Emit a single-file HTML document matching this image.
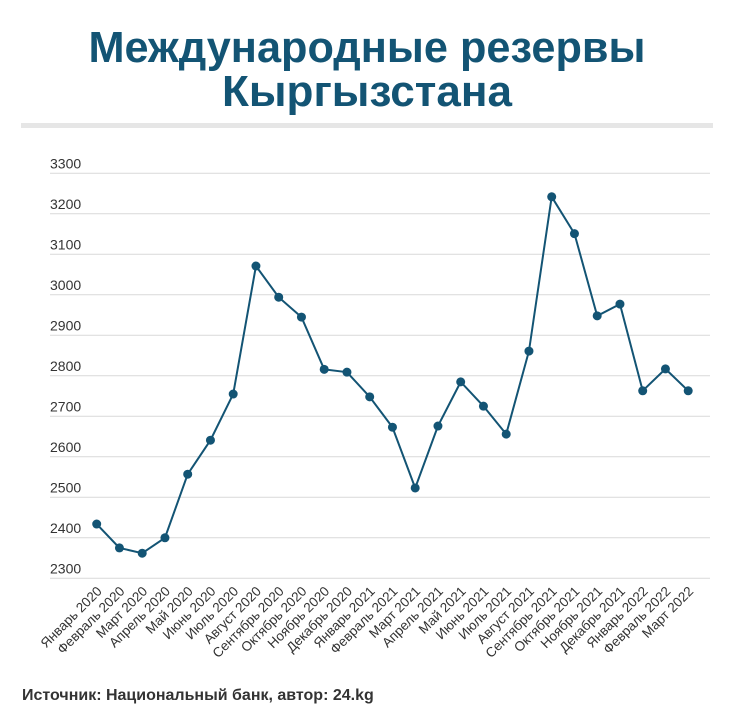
<!DOCTYPE html>
<html><head><meta charset="utf-8"><style>
body{margin:0;background:#fff;width:735px;height:717px;overflow:hidden}
svg{display:block}
</style></head><body>
<svg width="735" height="717" xmlns="http://www.w3.org/2000/svg" font-family="Liberation Sans, sans-serif">
<text x="367" y="62" text-anchor="middle" font-size="44" font-weight="bold" fill="#135474" textLength="557" lengthAdjust="spacingAndGlyphs">Международные резервы</text>
<text x="367" y="106" text-anchor="middle" font-size="44" font-weight="bold" fill="#135474" textLength="290" lengthAdjust="spacingAndGlyphs">Кыргызстана</text>
<rect x="21" y="123" width="692" height="5" fill="#e6e6e6"/>
<g id="grid" stroke="#d9d9d9" stroke-width="1"></g>
<g id="yl" font-size="14" fill="#333"></g>
<g id="xl" font-size="13.5" fill="#333"></g>
<polyline id="ln" fill="none" stroke="#135474" stroke-width="2"/>
<g id="pts" fill="#135474"></g>
<text x="22" y="700" font-size="16" font-weight="bold" fill="#333">Источник: Национальный банк, автор: 24.kg</text>
</svg>
<script>
var ns="http://www.w3.org/2000/svg";
function el(t,a,p,txt){var e=document.createElementNS(ns,t);for(var k in a)e.setAttribute(k,a[k]);if(txt)e.textContent=txt;document.getElementById(p).appendChild(e);return e;}
function Y(v){return 578.3-(v-2300)*0.405;}
for(var v=2300;v<=3300;v+=100){var y=Y(v);el('line',{x1:50,x2:710,y1:y,y2:y},'grid');el('text',{x:50,y:y-5},'yl',v);}
var vals=[2434,2375,2362,2400,2557,2641,2755,3071,2994,2945,2816,2809,2748,2673,2523,2676,2785,2725,2656,2861,3242,3151,2948,2977,2763,2817,2763];
var m=["Январь","Февраль","Март","Апрель","Май","Июнь","Июль","Август","Сентябрь","Октябрь","Ноябрь","Декабрь"];
var pts=[];
for(var i=0;i<vals.length;i++){var x=96.7+i*22.75,y=Y(vals[i]);pts.push(x+","+y);el('circle',{cx:x,cy:y,r:4.5},'pts');
var lab=m[i%12]+" "+(2020+Math.floor(i/12));
el('text',{x:x+6,y:592,'text-anchor':'end',transform:'rotate(-45 '+(x+6)+' 592)'},'xl',lab);}
document.getElementById('ln').setAttribute('points',pts.join(' '));
</script>
</body></html>
